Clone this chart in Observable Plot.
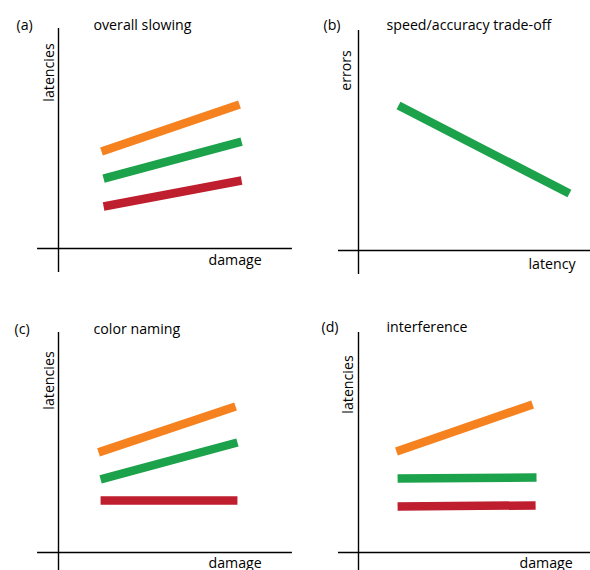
<!DOCTYPE html>
<html><head><meta charset="utf-8">
<script src="https://cdn.jsdelivr.net/npm/d3@7"></script>
<script src="https://cdn.jsdelivr.net/npm/@observablehq/plot@0.6"></script>
<style>
body{margin:0;background:#fff;}
#chart{position:relative;width:590px;height:570px;overflow:hidden;background:#fff;}
.panel{position:absolute;}
</style></head><body><div id="chart"></div>
<script>
// ---- data (schematic values) ----
// each row: series, x start, y start, x end, y end
const overallSlowing = [
  ["top",    1.87, 4.41, 7.87, 6.55],
  ["middle", 1.96, 3.18, 7.96, 4.86],
  ["bottom", 1.96, 1.91, 7.96, 3.09]
];
const speedAccuracy = [
  ["middle", 1.74, 6.59, 9.17, 2.59]
];
const colorNaming = [
  ["top",    1.74, 4.55, 7.70, 6.64],
  ["middle", 1.83, 3.32, 7.78, 5.00],
  ["bottom", 1.83, 2.36, 7.78, 2.36]
];
const interference = [
  ["top",    1.65, 4.59, 7.57, 6.73],
  ["middle", 1.70, 3.36, 7.74, 3.41],
  ["bottom", 1.70, 2.09, 7.70, 2.14]
];
const panelLetters = ["(a)", "(b)", "(c)", "(d)"];
const panelTitles = ["overall slowing", "speed/accuracy trade-off", "color naming", "interference"];
const xLabels = ["damage", "latency", "damage", "damage"];
const yLabels = ["latencies", "errors", "latencies", "latencies"];
const seriesNames = ["top", "middle", "bottom"];
const seriesColors = ["#F5821F", "#1BA24A", "#BE1E2D"];

// ---- layout ----
const panelData = [overallSlowing, speedAccuracy, colorNaming, interference];
const layout = [
  {left:0,   top:0,   ox:58, oy:248, xa:[-0.91,10.17], ya:[-1.09,10], letter:[16,29], title:[93,29], ylab:[53,72], xlab:[208,264]},
  {left:295, top:0,   ox:63, oy:250, xa:[-0.87,10.2],  ya:[-1.09,10], letter:[28,29], title:[91,29], ylab:[55,70], xlab:[233,268]},
  {left:0,   top:285, ox:58, oy:267, xa:[-0.91,10.17], ya:[-0.9,10],  letter:[14,48], title:[93,48], ylab:[53,95], xlab:[208,282]},
  {left:295, top:285, ox:63, oy:267, xa:[-0.87,10.2],  ya:[-0.9,10],  letter:[26,46], title:[91,46], ylab:[57,99], xlab:[224,282]}
];
const font = "'Open Sans', sans-serif";
const chart = document.getElementById("chart");

layout.forEach((L, i) => {
  const rows = panelData[i].map(([s, x1, y1, x2, y2]) => ({s, x1, y1, x2, y2}));
  const txt = (str, pos, extra) => Plot.text([str], Object.assign({
    text: d => d, frameAnchor: "top-left", dx: pos[0], dy: pos[1],
    textAnchor: "start", lineAnchor: "bottom", fontSize: 14.2, fill: "#000"
  }, extra || {}));
  const p = Plot.plot({
    width: 295, height: 285,
    marginTop: 0, marginLeft: 0, marginRight: 0, marginBottom: 0,
    style: {fontFamily: font, background: "transparent", overflow: "visible"},
    x: {domain: [0, 10], range: [L.ox, L.ox + 230], axis: null},
    y: {domain: [0, 10], range: [L.oy, L.oy - 220], axis: null},
    color: {type: "ordinal", domain: seriesNames, range: seriesColors},
    marks: [
      Plot.ruleY([0], {x1: L.xa[0], x2: L.xa[1], stroke: "#000", strokeWidth: 1.4}),
      Plot.ruleX([0], {y1: L.ya[0], y2: L.ya[1], stroke: "#000", strokeWidth: 1.4}),
      Plot.link(rows, {x1: "x1", y1: "y1", x2: "x2", y2: "y2", stroke: "s", strokeWidth: 8.5, strokeLinecap: "butt"}),
      txt(panelLetters[i], L.letter),
      txt(panelTitles[i], L.title),
      txt(xLabels[i], L.xlab),
      txt(yLabels[i], L.ylab, {rotate: -90, textAnchor: "middle"})
    ]
  });
  p.classList.add("panel");
  p.style.left = L.left + "px";
  p.style.top = L.top + "px";
  chart.appendChild(p);
});
</script></body></html>
